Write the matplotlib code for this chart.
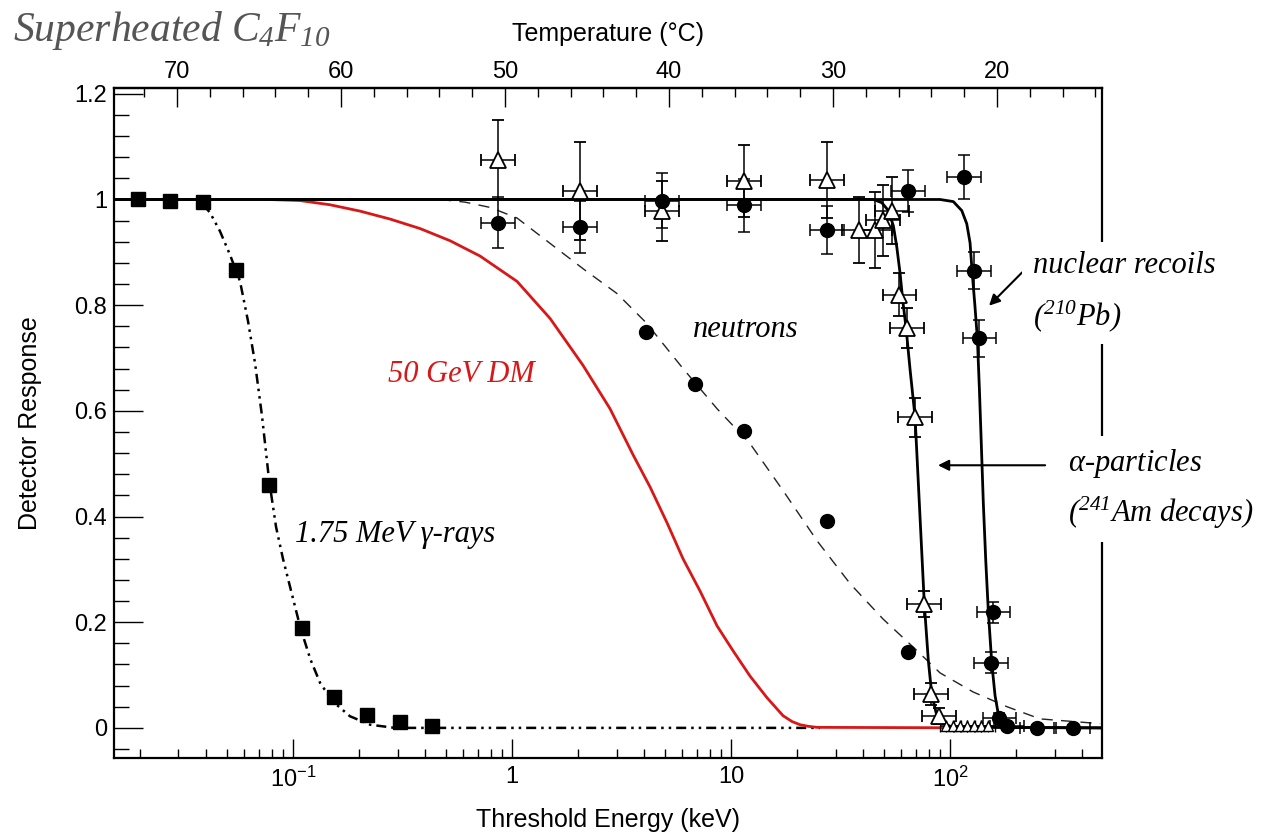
import numpy as np
import matplotlib
matplotlib.use('Agg')
import matplotlib.pyplot as plt
from matplotlib.ticker import MultipleLocator, LogLocator, NullFormatter, FormatStrFormatter

# ---- data (energy in keV, response 0..1) ----
# 1.75 MeV gamma-rays (squares) and fit
gamma_E = [0.0196, 0.0274, 0.0388, 0.0549, 0.0777, 0.110, 0.154, 0.218, 0.308, 0.431]
gamma_R = [1.0, 0.997, 0.996, 0.866, 0.460, 0.189, 0.059, 0.025, 0.011, 0.004]
gamma_fit_E = [0.0153, 0.0339, 0.0376, 0.0418, 0.0464, 0.0516, 0.0573, 0.0623, 0.0671,
               0.0722, 0.0777, 0.0837, 0.0900, 0.0979, 0.108, 0.120, 0.133, 0.152,
               0.182, 0.225, 0.292, 25.5]
gamma_fit_R = [1.0, 1.0, 0.997, 0.975, 0.94, 0.895, 0.845, 0.77, 0.69,
               0.59, 0.47, 0.38, 0.32, 0.26, 0.19, 0.13, 0.085, 0.05,
               0.022, 0.006, 0.0, 0.0]

# 50 GeV dark matter response
dm_E = [0.0769, 0.1076, 0.1476, 0.2023, 0.2773, 0.3802, 0.521, 0.7143, 1.054, 1.491,
        2.110, 2.802, 3.568, 4.267, 5.104, 6.037, 7.219, 8.633, 10.21, 12.21, 14.60,
        17.28, 18.99, 20.66, 22.47, 24.71, 152.0]
dm_R = [1.0, 0.998, 0.990, 0.978, 0.963, 0.945, 0.922, 0.893, 0.845, 0.775,
        0.686, 0.604, 0.517, 0.456, 0.388, 0.320, 0.259, 0.193, 0.146, 0.098, 0.057,
        0.023, 0.012, 0.006, 0.003, 0.001, 0.0]

# neutrons (filled circles, no error bars) and fit
n_E = [4.09, 6.85, 11.5, 27.4, 64.3]
n_R = [0.749, 0.650, 0.561, 0.392, 0.144]
n_fit_E = [0.469, 0.610, 0.794, 1.054, 1.491, 2.110, 3.016, 4.092, 6.037, 8.633,
           12.21, 17.28, 24.71, 34.95, 49.44, 70.69, 90.03, 127.4, 182.1, 257.6, 484.0]
n_fit_R = [1.0, 0.995, 0.985, 0.965, 0.917, 0.869, 0.822, 0.767, 0.680, 0.604,
           0.538, 0.449, 0.354, 0.273, 0.206, 0.146, 0.104, 0.068, 0.040, 0.017, 0.008]

# alpha particles (241Am), open triangles, and fit
alpha_E = [0.866, 2.044, 4.841, 11.47, 27.35, 38.41, 45.45, 49.59, 54.19, 58.69,
           63.83, 69.22, 76.31, 81.88, 88.81]
alpha_R = [1.075, 1.016, 0.978, 1.035, 1.037, 0.942, 0.943, 0.961, 0.979, 0.820,
           0.757, 0.588, 0.234, 0.064, 0.022]
alpha_err = [0.075, 0.093, 0.057, 0.069, 0.072, 0.063, 0.072, 0.067, 0.063, 0.040,
             0.038, 0.037, 0.025, 0.020, 0.015]
alpha_low_E = [95.9, 103.2, 111.1, 119.6, 128.7, 138.6, 149.1]
alpha_low_R = [0.004, 0.004, 0.004, 0.004, 0.004, 0.004, 0.004]
alpha_fit_E = [0.0152, 44.64, 48.77, 52.29, 55.11, 57.12, 59.14, 60.81, 62.97, 65.68,
               69.22, 72.42, 76.31, 79.59, 82.48, 86.31, 91.65, 100.0, 111.1, 495.0]
alpha_fit_R = [1.0, 1.0, 0.994, 0.979, 0.950, 0.910, 0.860, 0.809, 0.757, 0.678,
               0.588, 0.424, 0.234, 0.127, 0.064, 0.029, 0.011, 0.003, 0.001, 0.0]

# nuclear recoils (210Pb), filled circles, and fit
pb_E = [0.866, 2.044, 4.857, 11.47, 27.35, 64.5, 115.8, 128.7, 136.1, 153.4,
        157.7, 168.0, 182.6, 248.8, 364.5]
pb_R = [0.956, 0.948, 0.998, 0.989, 0.942, 1.016, 1.043, 0.865, 0.737, 0.123,
        0.219, 0.018, 0.004, 0.0, 0.0]
pb_err = [0.048, 0.050, 0.052, 0.050, 0.045, 0.040, 0.042, 0.035, 0.035, 0.020,
          0.020, 0.010, 0.005, 0.005, 0.005]
pb_fit_E = [0.0152, 90.03, 103.5, 113.1, 119.2, 123.4, 126.0, 129.7, 133.3, 136.1,
            139.0, 141.9, 145.6, 149.6, 155.0, 160.5, 166.2, 175.2, 194.5, 495.0]
pb_fit_R = [1.0, 1.0, 0.996, 0.979, 0.954, 0.918, 0.865, 0.802, 0.736, 0.642,
            0.533, 0.424, 0.315, 0.219, 0.123, 0.061, 0.025, 0.007, 0.001, 0.0]

XERR_DEX = 0.077          # horizontal error bars, in decades
XERR_DEX_LOW = 0.03

# temperature scale calibration (top axis): two reference points
T_CAL = [70.0, 20.0]
E_CAL = [0.02953, 163.9]
temp_ticks = [70, 60, 50, 40, 30, 20]

x_ticks = [0.1, 1, 10, 100]
x_ticklabels = [r'$\mathdefault{10^{-1}}$', '1', '10', r'$\mathdefault{10^{2}}$']
y_ticks = [0, 0.2, 0.4, 0.6, 0.8, 1.0, 1.2]
y_ticklabels = ['0', '0.2', '0.4', '0.6', '0.8', '1', '1.2']


def xbars(E, dex):
    E = np.asarray(E)
    return [E - E / 10**dex, E * 10**dex - E]


L0 = np.log10(E_CAL[0])
SLOPE = (T_CAL[0] - T_CAL[1]) / (np.log10(E_CAL[1]) - L0)


def e2t(E):
    E = np.clip(np.asarray(E, dtype=float), 1e-30, None)
    return T_CAL[0] - SLOPE * (np.log10(E) - L0)


def t2e(T):
    return 10**(L0 + (T_CAL[0] - np.asarray(T, dtype=float)) / SLOPE)


plt.rcParams.update({'font.family': 'Liberation Sans', 'font.size': 17,
                     'mathtext.fontset': 'custom',
                     'mathtext.rm': 'Liberation Serif:italic',
                     'mathtext.it': 'Liberation Serif:italic',
                     'mathtext.bf': 'Liberation Serif:bold'})

fig = plt.figure(figsize=(12.72, 8.35), dpi=100)
ax = fig.add_axes([114/1272, 77/835, 988/1272, 670/835])
ax.set_xscale('log')
ax.set_xlim(0.01523, 494)
ax.set_ylim(-0.057, 1.211)

# fits
ax.plot(gamma_fit_E, gamma_fit_R, color='k', lw=1.8, ls=(0, (4, 2, 1, 2, 1, 2)), zorder=3)
ax.plot(dm_E, dm_R, color='#d81818', lw=2.0, zorder=3)
ax.plot(n_fit_E, n_fit_R, color='#222222', lw=1.0, ls=(0, (8, 6)), zorder=3)
ax.plot(alpha_fit_E, alpha_fit_R, color='k', lw=2.0, zorder=3)
ax.plot(pb_fit_E, pb_fit_R, color='k', lw=2.0, zorder=3)

# data
ebkw = dict(ecolor='k', elinewidth=1.1, capsize=4, capthick=1.1, zorder=5)
ax.errorbar(alpha_E, alpha_R, yerr=alpha_err, xerr=xbars(alpha_E, XERR_DEX), fmt='^',
            ms=11, mfc='white', mec='k', mew=1.3, **ebkw)
ax.errorbar(alpha_low_E, alpha_low_R, xerr=xbars(alpha_low_E, XERR_DEX_LOW), fmt='^',
            ms=7, mfc='white', mec='k', mew=1.0, **ebkw)
ax.errorbar(pb_E, pb_R, yerr=pb_err, xerr=xbars(pb_E, XERR_DEX), fmt='o',
            ms=10, color='k', **ebkw)
ax.plot(n_E, n_R, 'o', ms=10, color='k', zorder=5)
ax.plot(gamma_E, gamma_R, 's', ms=9.5, color='k', zorder=5)

# axes styling
for s in ax.spines.values():
    s.set_linewidth(1.6)
ax.set_xticks(x_ticks)
ax.set_xticklabels(x_ticklabels)
ax.xaxis.set_minor_locator(LogLocator(base=10, subs=np.arange(2, 10)))
ax.xaxis.set_minor_formatter(NullFormatter())
ax.set_yticks(y_ticks)
ax.set_yticklabels(y_ticklabels)
ax.yaxis.set_minor_locator(MultipleLocator(0.04))
ax.tick_params(which='both', direction='in', top=False, right=False, width=1.0)
ax.tick_params(axis='x', which='major', length=13.7, pad=6)
ax.tick_params(axis='x', which='minor', length=6.5)
ax.tick_params(axis='y', which='major', length=21, pad=5)
ax.tick_params(axis='y', which='minor', length=11)

ax.set_xlabel('Threshold Energy (keV)', fontsize=18)
ax.xaxis.set_label_coords(0.5, -0.074)
ax.set_ylabel('Detector Response', fontsize=18)
ax.yaxis.set_label_coords(-0.073, 0.5)

# temperature axis on top
secax = ax.secondary_xaxis('top', functions=(e2t, t2e))
secax.set_xticks(temp_ticks)
secax.xaxis.set_major_formatter(FormatStrFormatter('%d'))
secax.xaxis.set_minor_locator(MultipleLocator(2))
secax.xaxis.set_minor_formatter(NullFormatter())
secax.tick_params(which='both', direction='in', width=1.0)
secax.tick_params(which='major', length=13.7, pad=3.5)
secax.tick_params(which='minor', length=6.5)
secax.spines['top'].set_linewidth(1.6)
fig.text(608/1272, 1 - 46/835, 'Temperature (°C)', ha='center', va='bottom', fontsize=18)

# title
fig.text(13/1272, 1 - 41/835, r'$\mathit{Superheated\ C_4F_{10}}$', fontsize=30,
         color='#555555', ha='left', va='baseline')

# annotations
tkw = dict(fontfamily='Liberation Serif', style='italic', fontsize=22, ha='left', va='baseline')
ax.text(6.7, 0.740, 'neutrons', **tkw)
ax.text(0.2716, 0.655, '50 GeV DM', color='#d81818', **tkw)
ax.text(0.1021, 0.351, '1.75 MeV γ-rays', **tkw)
box = dict(boxstyle='square,pad=0.35', fc='white', ec='none')
ax.text(239.3, 0.763, 'nuclear recoils\n' + r'$\mathit{(^{210}Pb)}$', linespacing=1.65,
        bbox=box, zorder=6, **tkw)
ax.text(345.8, 0.390, r'$\mathit{\alpha}$-particles' + '\n' + r'$\mathit{(^{241}Am\ decays)}$',
        linespacing=1.55, bbox=box, zorder=6, **tkw)

akw = dict(arrowstyle='-|>', color='k', lw=1.5, mutation_scale=16, shrinkA=0, shrinkB=0)
ax.annotate('', xy=(150.7, 0.799), xytext=(213.3, 0.862), arrowprops=akw)
ax.annotate('', xy=(88.1, 0.497), xytext=(271.6, 0.497), arrowprops=akw)

fig.savefig('out.png', dpi=100)
